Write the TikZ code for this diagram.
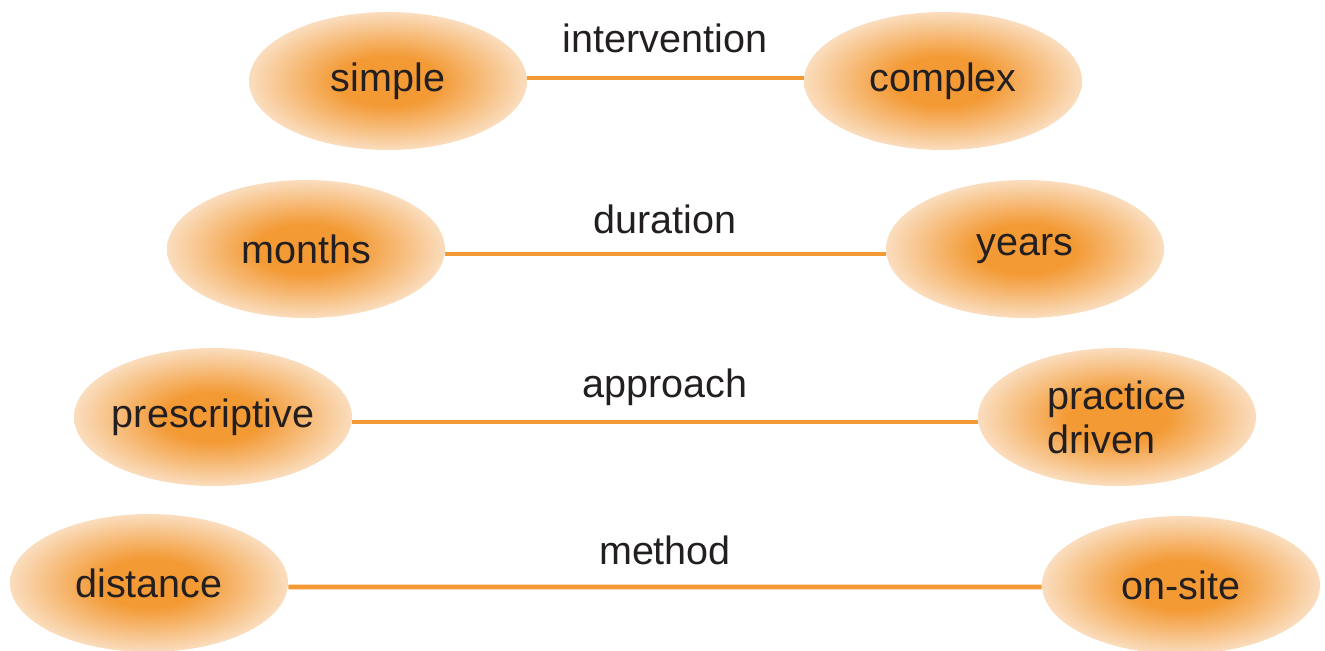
\documentclass[tikz,border=0pt]{standalone}
\usepackage{fontspec}
\setmainfont{Liberation Sans}
\usetikzlibrary{shapes.geometric}
\definecolor{oin}{HTML}{F39A35}
\definecolor{oout}{HTML}{FADDBE}
\definecolor{txt}{HTML}{231F20}
\pgfdeclareradialshading{ovalshade}{\pgfpoint{0bp}{0bp}}{color(0bp)=(oin); color(9bp)=(oin); color(25bp)=(oout); color(50bp)=(oout)}
\begin{document}
\begin{tikzpicture}[x=0.02cm,y=-0.02cm,
  oval/.style={ellipse, minimum width=5.56cm, minimum height=2.76cm, shading=ovalshade, inner xsep=-1cm, inner ysep=0pt, text=txt, font=\fontsize{22.5}{25}\selectfont, align=left},
  link/.style={draw=oin, line width=2.6pt},
  lab/.style={text=txt, font=\fontsize{22.5}{25}\selectfont, inner sep=0pt}]
\useasboundingbox (0,0) rectangle (1325,650);
\node[oval] (simple) at (388,81) {simple};
\node[oval] (complex) at (943,81) {complex};
\node[oval] (months) at (306,249) {months};
\node[oval] (years) at (1025,249) {years};
\node[oval] (prescriptive) at (213,417) {prescriptive};
\node[oval] (practice) at (1117,417) {practice\\driven};
\node[oval] (distance) at (149,583) {distance};
\node[oval] (onsite) at (1181,585) {on-site};
\draw[link] ([yshift=0.06cm]simple.east) -- ([yshift=0.06cm]complex.west);
\draw[link] ([yshift=-0.1cm]months.east) -- ([yshift=-0.1cm]years.west);
\draw[link] ([yshift=-0.1cm]prescriptive.east) -- ([yshift=-0.1cm]practice.west);
\draw[link] ([yshift=-0.08cm]distance.east) -- ([yshift=-0.04cm]onsite.west);
\node[lab] (l1) at (665,38) {intervention};
\node[lab] (l2) at (665,219) {duration};
\node[lab] (l3) at (665,387) {approach};
\node[lab] (l4) at (665,550) {method};
\end{tikzpicture}
\end{document}
